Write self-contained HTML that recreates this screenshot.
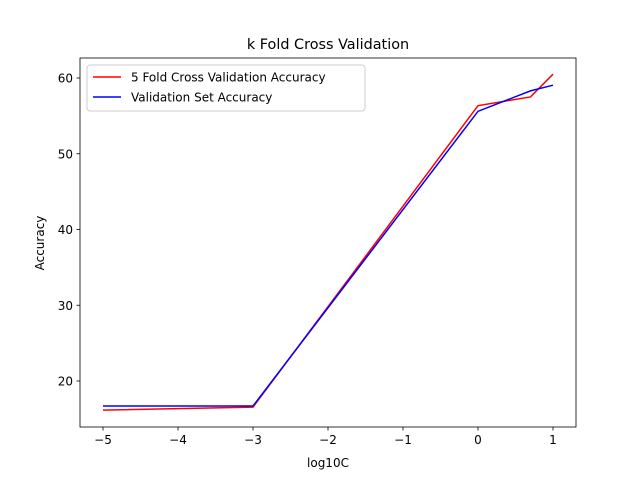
<!DOCTYPE html>
<html><head><meta charset="utf-8"><style>
body{margin:0;background:#fff}
svg text{font-family:"DejaVu Sans","Liberation Sans",sans-serif;fill:#000}
</style></head><body>
<svg id="chart" width="640" height="480" xmlns="http://www.w3.org/2000/svg">
<rect width="640" height="480" fill="#fff"/>
<text x="328" y="49" font-size="14.4" text-anchor="middle">k Fold Cross Validation</text>
<g id="plot"></g>
<text x="328" y="467" font-size="12" text-anchor="middle">log10C</text>
<text transform="translate(44,243) rotate(-90)" font-size="12" text-anchor="middle">Accuracy</text>
</svg>
<script>
const xValues=[-5,-3,0,0.699,1];
const cvAccuracy=[16.15,16.55,56.35,57.5,60.5];
const valAccuracy=[16.7,16.7,55.6,58.3,59.05];
const xTicks=[-5,-4,-3,-2,-1,0,1];
const yTicks=[20,30,40,50,60];
const NS="http://www.w3.org/2000/svg";
const L=80,R=576,T=58,B=427;
const sx=v=>103+(v+5)*75;
const sy=v=>381-(v-20)*7.575;
const g=document.getElementById('plot');
function mk(t,a){const e=document.createElementNS(NS,t);for(const k in a)e.setAttribute(k,a[k]);g.appendChild(e);return e;}
xTicks.forEach(t=>{
 const l=mk('line',{x1:sx(t),x2:sx(t),y1:B,y2:B+3.5,stroke:'#000','stroke-width':0.8});
 
 
 const tx=mk('text',{x:sx(t),y:B+17,'font-size':12,'text-anchor':'middle'});
 tx.textContent=(t<0?'\u2212'+(-t):t);
 
 
});
yTicks.forEach(t=>{
 const l=mk('line',{x1:L-3.5,x2:L,y1:sy(t),y2:sy(t),stroke:'#000','stroke-width':0.8});
 
 
 const tx=mk('text',{x:L-7,y:sy(t)+4.5,'font-size':12,'text-anchor':'end'});
 tx.textContent=t;
 
 
});
function line(ys,c,name){
 const p=mk('polyline',{points:xValues.map((x,i)=>sx(x)+','+sy(ys[i])).join(' '),fill:'none',stroke:c,'stroke-width':1.5});
 
 
}
line(cvAccuracy,'red','cv-accuracy-line');
line(valAccuracy,'blue','validation-accuracy-line');
const fr=mk('rect',{x:L,y:T,width:R-L,height:B-T,fill:'none',stroke:'#000','stroke-width':0.8});


const lg=mk('rect',{x:87,y:65,width:278,height:46,rx:3,fill:'#fff',stroke:'#ccc','stroke-width':1});


[['red','5 Fold Cross Validation Accuracy',77],['blue','Validation Set Accuracy',97]].forEach(([c,t,y])=>{
 const l=mk('line',{x1:93,x2:121,y1:y,y2:y,stroke:c,'stroke-width':1.5});
 
 
 const tx=mk('text',{x:131,y:y+4.5,'font-size':12});
 tx.textContent=t;
 
 
});
</script>
</body></html>
